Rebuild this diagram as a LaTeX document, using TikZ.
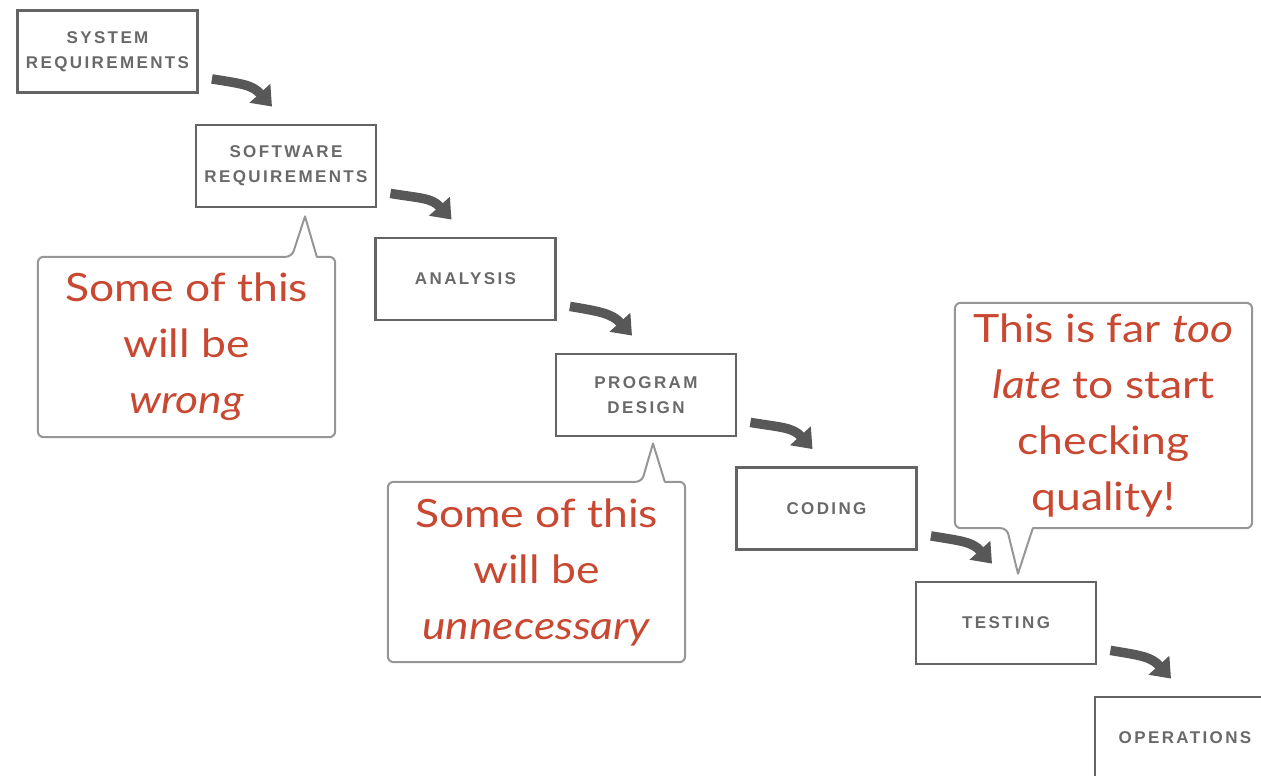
\documentclass[tikz,border=0pt]{standalone}
\usepackage{fontspec}
\setmainfont{Lato}[FakeStretch=1.14]
\newfontfamily\stagefont[LetterSpace=14]{Liberation Sans}
\usetikzlibrary{arrows.meta,calc}
\definecolor{boxgray}{RGB}{100,100,100}
\definecolor{labelgray}{RGB}{105,105,105}
\definecolor{arrowgray}{RGB}{88,88,88}
\definecolor{notered}{RGB}{200,72,50}
\definecolor{notegray}{RGB}{150,150,150}
\begin{document}
\begin{tikzpicture}[x=1pt,y=-1pt,
  stage/.style={draw=boxgray, line width=2.8pt, minimum width=180pt, minimum height=82pt,
    inner sep=0pt, font=\stagefont\bfseries\fontsize{17}{25}\selectfont, text=labelgray, align=center},
  flow/.style={draw=arrowgray, line width=9.5pt, -{Triangle[length=18pt,width=27pt]}},
  note/.style={inner sep=0pt, font=\fontsize{39}{56}\selectfont, text=notered, align=center},
  bubble/.style={draw=notegray, line width=2pt, line join=round}
]
\clip (0,0) rectangle (1261,776);

% stages of the waterfall
\node[stage] (s1) at (107.5,51.5) {SYSTEM\\REQUIREMENTS};
\node[stage] (s2) at (286,166) {SOFTWARE\\REQUIREMENTS};
\node[stage] (s3) at (465.5,279) {ANALYSIS};
\node[stage] (s4) at (646,395) {PROGRAM\\DESIGN};
\node[stage] (s5) at (826.5,508.5) {CODING};
\node[stage] (s6) at (1006,623) {TESTING};
\node[stage] (s7) at (1185,738) {OPERATIONS};

% curved arrows from each stage to the next
\foreach \a/\b in {s1/s2,s2/s3,s3/s4,s4/s5,s5/s6,s6/s7}{
  \coordinate (\a-out) at ($(\a.south east)+(13,-15)$);
  \coordinate (\b-in) at ($(\b.north)+(-14,-17)$);
  \draw[flow] (\a-out) .. controls +(30,5) and +(-20,-22) .. (\b-in);
}

% callout pointing at software requirements
\node[note, minimum width=297pt, minimum height=180pt] (cA) at (186.5,347)
  {Some of this\\will be\\\textit{wrong}};
\coordinate (pA) at ($(s2.south)+(19,8)$);
\draw[bubble] ($(cA.north west)+(254,0)$) -- (pA) -- ($(cA.north west)+(279,0)$)
  [rounded corners=6pt] -- (cA.north east) -- (cA.south east) -- (cA.south west)
  -- (cA.north west) -- cycle;

% callout pointing at program design
\node[note, minimum width=297pt, minimum height=180pt] (cB) at (536.5,572)
  {Some of this\\will be\\\textit{unnecessary}};
\coordinate (pB) at ($(s4.south)+(7,6)$);
\draw[bubble] ($(cB.north west)+(254,0)$) -- (pB) -- ($(cB.north west)+(277,0)$)
  [rounded corners=6pt] -- (cB.north east) -- (cB.south east) -- (cB.south west)
  -- (cB.north west) -- cycle;

% callout pointing at testing
\node[note, minimum width=297pt, minimum height=225pt] (cC) at (1103.5,415.5)
  {This is far \textit{too}\\\textit{late} to start\\checking\\quality!};
\coordinate (pC) at ($(s6.north)+(12,-7)$);
\draw[bubble] ($(cC.south west)+(52,0)$) -- (pC) -- ($(cC.south west)+(78,0)$)
  [rounded corners=6pt] -- (cC.south east) -- (cC.north east) -- (cC.north west)
  -- (cC.south west) -- cycle;
\end{tikzpicture}
\end{document}
